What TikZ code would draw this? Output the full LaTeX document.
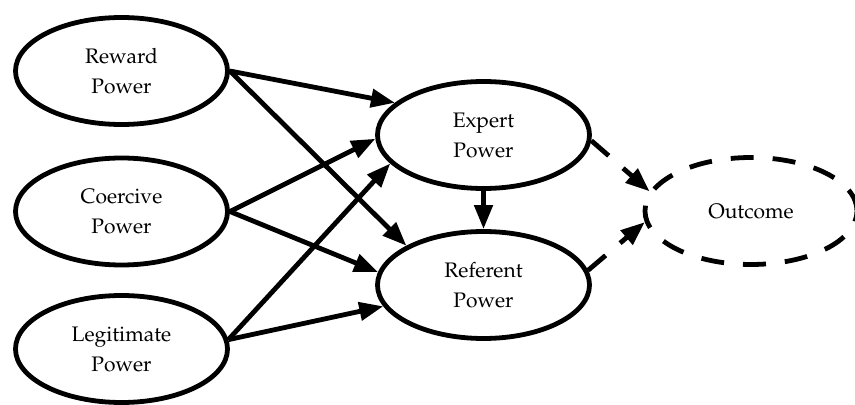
\documentclass[tikz,border=0pt]{standalone}
\usepackage[T1]{fontenc}
\usepackage{mathpazo}
\usepackage{tikz}
\usetikzlibrary{positioning, arrows.meta, shapes.geometric}
\tikzset{
    pwr/.style={draw, ellipse, line width=2.4pt, minimum width=106pt, minimum height=53.5pt, align=center, font=\fontsize{10.5}{15}\selectfont, inner sep=0pt},
    pwrdash/.style={pwr, dash pattern=on 11.5pt off 9.5pt},
    parrow/.style={-{Triangle[length=12pt, width=9pt]}, line width=2.4pt},
    pdarrow/.style={parrow, dash pattern=on 11.5pt off 9.5pt},
}

\begin{document}
\begin{tikzpicture}[x=0.5pt, y=-0.5pt]
        \useasboundingbox (0,0) rectangle (855,405);
        \node[pwr] (reward) at (121.5,71)    {Reward\\ Power};
        \node[pwr] (coerc)  at (121.5,211.5) {Coercive\\ Power};
        \node[pwr] (legit)  at (121.5,349)   {Legitimate\\ Power};
        \node[pwr] (expert) at (483.5,135)   {Expert\\ Power};
        \node[pwr] (refer)  at (483.5,285)   {Referent\\ Power};
        \node[pwrdash] (outc) at (751,211)   {Outcome};
        \draw[parrow] (reward.east) -- (expert.160);
        \draw[parrow] (reward.east) -- (refer.153);
        \draw[parrow] (coerc.east) -- (expert.182);
        \draw[parrow] (coerc.east) -- (refer.173);
        \draw[parrow] (legit.5) -- (expert.197);
        \draw[parrow] (legit.5) -- (refer.192);
        \draw[parrow] (expert.south) -- (refer.north);
        \draw[pdarrow] (expert.-3) -- (outc.169);
        \draw[pdarrow] (refer.8) -- (outc.186);
    \end{tikzpicture}
\end{document}
